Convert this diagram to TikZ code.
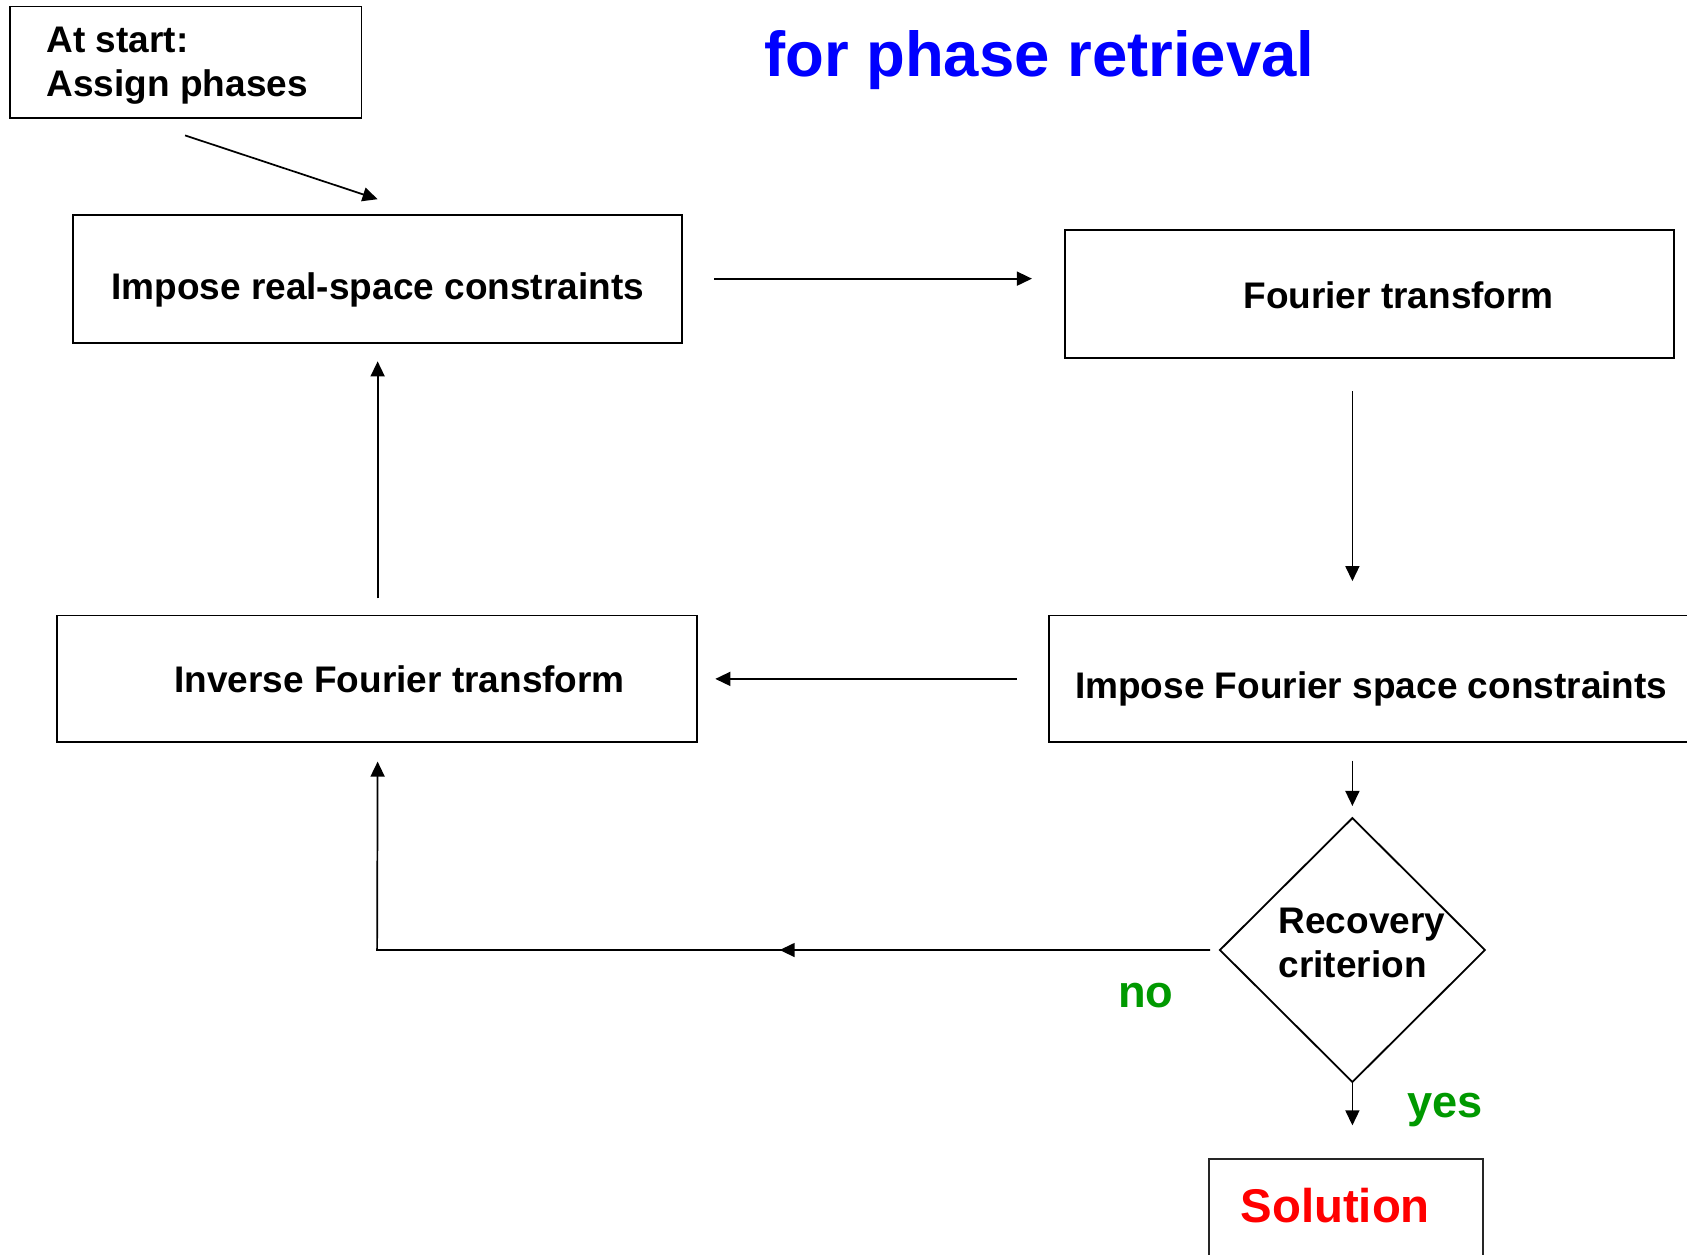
\documentclass[tikz,border=0pt]{standalone}
\usepackage{fontspec}
\setmainfont{Liberation Sans}
\usetikzlibrary{arrows.meta,shapes.geometric,decorations.markings}
\definecolor{titleblue}{RGB}{0,0,255}
\definecolor{yesgreen}{RGB}{0,153,0}
\definecolor{solred}{RGB}{255,0,0}
\begin{document}
\begin{tikzpicture}[x=0.5pt,y=-0.5pt,
  box/.style={draw,line width=0.85pt,rectangle,inner sep=0pt},
  txt/.style={inner sep=0pt,anchor=base,font=\fontsize{17.2}{20}\selectfont\bfseries},
  arr/.style={line width=0.8pt,-{Triangle[length=7pt,width=6.5pt]}},
  lbl/.style={inner sep=0pt,anchor=base,font=\fontsize{21}{24}\selectfont\bfseries,text=yesgreen}]
\useasboundingbox (0,0) rectangle (1568,1166);
\clip (0,0) rectangle (1568,1166);
\fill[white] (0,0) rectangle (1568,1166);

% title
\node[inner sep=0pt,anchor=base,font=\fontsize{29.5}{34}\selectfont\bfseries,text=titleblue] (title) at (966,71) {for phase retrieval};

% boxes
\node[box,minimum width=163.5pt,minimum height=52pt] (start) at (172.5,58) {};
\node[txt,anchor=base west] (startA) at (43,49) {At start:};
\node[txt,anchor=base west] (startB) at (43,90) {Assign phases};

\node[box,minimum width=283pt,minimum height=59.5pt] (real) at (351,259.5) {};
\node[txt] (realT) at (351,278) {Impose real-space constraints};

\node[box,minimum width=283pt,minimum height=59.5pt] (ft) at (1273,273.5) {};
\node[txt] (ftT) at (1300,287) {Fourier transform};

\node[box,minimum width=312.5pt,minimum height=59pt] (ifs) at (1287.5,631) {};
\node[txt] (ifsT) at (1274.5,649) {Impose Fourier space constraints};

\node[box,minimum width=297.5pt,minimum height=59pt] (ift) at (350.5,631) {};
\node[txt] (iftT) at (371.5,644) {Inverse Fourier transform};

\node[draw,line width=0.85pt,diamond,shape aspect=1,inner sep=0pt,minimum width=123.5pt,minimum height=123pt] (dia) at (1257,883) {};
\node[txt,anchor=base west] (diaA) at (1188,868) {Recovery};
\node[txt,anchor=base west] (diaB) at (1188,909) {criterion};

\node[box,line width=1pt,draw=black!85,minimum width=127pt,minimum height=61.5pt] (sol) at (1251,1138.5) {};
\node[inner sep=0pt,anchor=base,font=\fontsize{22}{26}\selectfont\bfseries,text=solred] (solT) at (1241,1136) {Solution};

% labels
\node[lbl] (no) at (1065,936) {no};
\node[lbl] (yes) at (1343,1039) {yes};

% connectors
\draw[arr] ([xshift=-0.25pt,yshift=-7.5pt]start.south) -- ([yshift=7pt]real.north);
\draw[arr] ([xshift=14.5pt,yshift=0.25pt]real.east) -- ([xshift=-15pt,yshift=0.25pt]real.east -| ft.west);
\draw[arr] ([yshift=-15pt]ft.south -| dia.north) -- ([yshift=15.5pt]ifs.north -| dia.north);
\draw[arr] ([xshift=-14.5pt]ifs.west) -- ([xshift=8pt]ift.east);
\draw[arr] ([yshift=7.5pt]ift.north -| real.south) -- ([yshift=-8pt]real.south);
\draw[arr] ([yshift=-8pt]ifs.south -| dia.north) -- ([yshift=5pt]dia.north);
\coordinate (corner) at (ift.south |- dia.west);
\draw[arr,postaction={decorate},decoration={markings,mark=at position 200pt with {\arrow{Triangle[length=7pt,width=6.5pt]}}}]
  ([xshift=-4pt]dia.west) -- (corner) -- ([yshift=-8.5pt]ift.south -| real.south);
\draw[arr] (dia.south) -- ([yshift=15pt]sol.north -| dia.south);
\end{tikzpicture}
\end{document}
